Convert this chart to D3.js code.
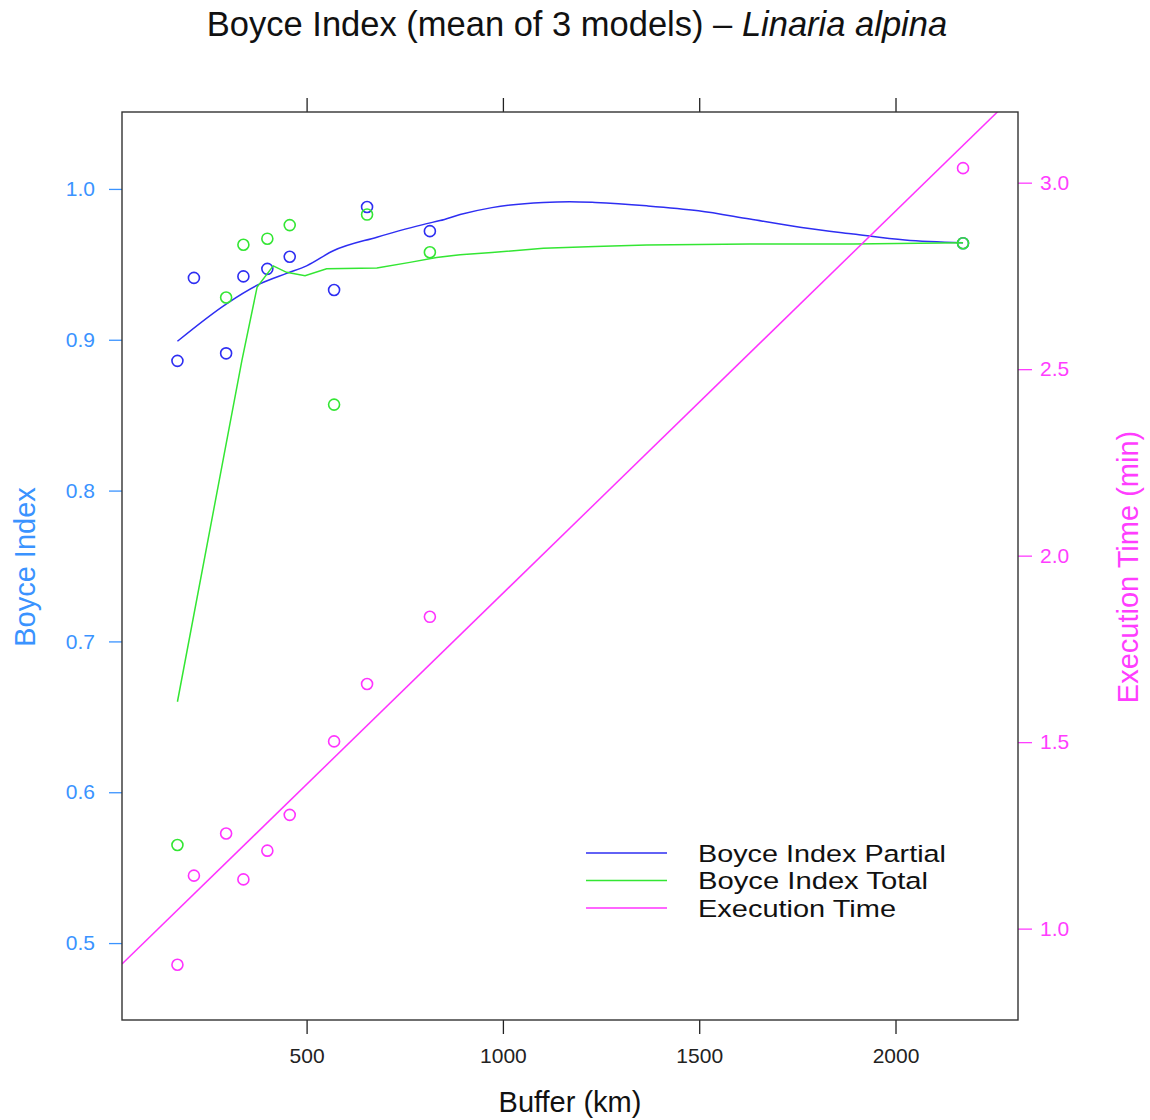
<!DOCTYPE html>
<html><head><meta charset="utf-8">
<script src="https://cdn.jsdelivr.net/npm/d3@7"></script>
<style>
body{margin:0;background:#fff}
svg{display:block}
text{font-family:"Liberation Sans",Arial,Helvetica,sans-serif}
</style>
</head><body>
<svg id="chart" width="1150" height="1120"></svg>
<script>
// ---- data ----
const buffer = [171, 213, 295, 339, 400, 457, 570, 654, 814, 2172];
const boycePartial = [0.886, 0.941, 0.891, 0.942, 0.947, 0.955, 0.933, 0.988, 0.972, 0.964];
const boyceTotal = [0.565, null, 0.928, 0.963, 0.967, 0.976, 0.857, 0.983, 0.958, 0.964];
const execTime = [0.903, 1.142, 1.255, 1.132, 1.209, 1.305, 1.502, 1.656, 1.836, 3.039];

// smoothed (loess) curves: [buffer, value]
const smoothPartialX = [171, 297, 381, 449, 500, 568, 679, 806, 840, 891, 972, 1103, 1170, 1235, 1366, 1498, 1629, 1761, 1892, 2024, 2172];
const smoothPartialY = [0.899, 0.924, 0.937, 0.944, 0.949, 0.959, 0.968, 0.977, 0.979, 0.983, 0.9876, 0.991, 0.9915, 0.991, 0.9888, 0.9855, 0.980, 0.9744, 0.9701, 0.9661, 0.9643];
const smoothTotalX = [171, 335, 374, 415, 449, 496, 551, 679, 763, 831, 891, 972, 1103, 1235, 1366, 1629, 1892, 2172];
const smoothTotalY = [0.660, 0.886, 0.935, 0.949, 0.9447, 0.9425, 0.947, 0.9476, 0.9513, 0.9546, 0.9564, 0.9579, 0.9606, 0.9619, 0.9628, 0.9635, 0.9635, 0.9643];

const xTicks = [500, 1000, 1500, 2000];
const yLeftTicks = [0.5, 0.6, 0.7, 0.8, 0.9, 1.0];
const yRightTicks = [1.0, 1.5, 2.0, 2.5, 3.0];
const legendLabels = ["Boyce Index Partial", "Boyce Index Total", "Execution Time"];

// ---- styles ----
const colBlue = "#2e2ef2", colGreen = "#33e633", colMag = "#ff33ff";
const colLeftAxis = "#3a93ff", colRightAxis = "#ff3dff";
const L = 122, R = 1018, T = 112, B = 1020;

const svg = d3.select("#chart");
const x = d3.scaleLinear().domain([29.8, 2312]).range([L, R]);
const yL = d3.scaleLinear().domain([0.449, 1.051]).range([B, T]);
const yR = d3.scaleLinear().domain([0.755, 3.1895]).range([B, T]);

svg.append("defs").append("clipPath").attr("id", "clip")
  .append("rect").attr("x", L).attr("y", T).attr("width", R - L).attr("height", B - T);

// title
const title = svg.append("text").attr("x", 577).attr("y", 36).attr("text-anchor", "middle")
  .attr("font-size", 34.5).attr("fill", "#111");
title.append("tspan").text("Boyce Index (mean of 3 models) \u2013 ");
title.append("tspan").attr("font-style", "italic").text("Linaria alpina");

// axes
function styleAxis(g, color) {
  g.select(".domain").remove();
  g.selectAll(".tick line").attr("stroke", color).attr("stroke-width", 1.3);
  g.selectAll(".tick text").attr("fill", color).attr("font-size", 21)
    .attr("font-family", '"Liberation Sans",Arial,sans-serif');
}
const gB = svg.append("g").attr("transform", `translate(0,${B})`)
  .call(d3.axisBottom(x).tickValues(xTicks).tickSize(14).tickPadding(14).tickFormat(d3.format("d")));
styleAxis(gB, "#222");
const gT = svg.append("g").attr("transform", `translate(0,${T})`)
  .call(d3.axisTop(x).tickValues(xTicks).tickSize(14).tickFormat(""));
styleAxis(gT, "#222");
const gL = svg.append("g").attr("transform", `translate(${L},0)`)
  .call(d3.axisLeft(yL).tickValues(yLeftTicks).tickSize(13).tickPadding(14).tickFormat(d3.format(".1f")));
styleAxis(gL, colLeftAxis);
const gR = svg.append("g").attr("transform", `translate(${R},0)`)
  .call(d3.axisRight(yR).tickValues(yRightTicks).tickSize(14).tickPadding(8).tickFormat(d3.format(".1f")));
styleAxis(gR, colRightAxis);

// axis labels
svg.append("text").attr("x", 570).attr("y", 1112).attr("text-anchor", "middle")
  .attr("font-size", 29).attr("fill", "#111").text("Buffer (km)");
svg.append("text").attr("transform", "translate(35,567) rotate(-90)").attr("text-anchor", "middle")
  .attr("font-size", 29).attr("fill", colLeftAxis).text("Boyce Index");
svg.append("text").attr("transform", "translate(1138,567) rotate(-90)").attr("text-anchor", "middle")
  .attr("font-size", 29).attr("fill", colRightAxis).text("Execution Time (min)");

const plot = svg.append("g").attr("clip-path", "url(#clip)");

const ptsPartial = buffer.map((b, i) => [b, boycePartial[i]]);
const ptsTotal = buffer.map((b, i) => [b, boyceTotal[i]]).filter(d => d[1] != null);
const ptsExec = buffer.map((b, i) => [b, execTime[i]]);

const lineL = d3.line().x(d => x(d[0])).y(d => yL(d[1]));

plot.selectAll(".pP").data(ptsPartial).join("circle")
  .attr("cx", d => x(d[0])).attr("cy", d => yL(d[1])).attr("r", 5.5)
  .attr("fill", "none").attr("stroke", colBlue).attr("stroke-width", 1.6);
plot.append("path").datum(smoothPartialX.map((v, i) => [v, smoothPartialY[i]]))
  .attr("d", lineL.curve(d3.curveMonotoneX)).attr("fill", "none")
  .attr("stroke", colBlue).attr("stroke-width", 1.5);

plot.selectAll(".pT").data(ptsTotal).join("circle")
  .attr("cx", d => x(d[0])).attr("cy", d => yL(d[1])).attr("r", 5.5)
  .attr("fill", "none").attr("stroke", colGreen).attr("stroke-width", 1.6);
plot.append("path").datum(smoothTotalX.map((v, i) => [v, smoothTotalY[i]]))
  .attr("d", d3.line().x(d => x(d[0])).y(d => yL(d[1])).curve(d3.curveLinear)).attr("fill", "none")
  .attr("stroke", colGreen).attr("stroke-width", 1.5);

// execution time: points + least-squares line
plot.selectAll(".pE").data(ptsExec).join("circle")
  .attr("cx", d => x(d[0])).attr("cy", d => yR(d[1])).attr("r", 5.5)
  .attr("fill", "none").attr("stroke", colMag).attr("stroke-width", 1.6);
const mx = d3.mean(buffer), my = d3.mean(execTime);
const slope = d3.sum(buffer, (b, i) => (b - mx) * (execTime[i] - my)) / d3.sum(buffer, b => (b - mx) ** 2);
const icpt = my - slope * mx;
const xd = x.domain();
plot.append("path").datum(xd.map(v => [v, icpt + slope * v]))
  .attr("d", d3.line().x(d => x(d[0])).y(d => yR(d[1]))).attr("fill", "none")
  .attr("stroke", colMag).attr("stroke-width", 1.5);

// frame
svg.append("rect").attr("x", L).attr("y", T).attr("width", R - L).attr("height", B - T)
  .attr("fill", "none").attr("stroke", "#333").attr("stroke-width", 1.4);

// legend
const legCols = [colBlue, colGreen, colMag];
const legWidths = [248, 230, 198];
const leg = svg.append("g");
legendLabels.forEach((lab, i) => {
  const yy = 853 + i * 27.5;
  leg.append("line").attr("x1", 586).attr("x2", 667).attr("y1", yy).attr("y2", yy)
    .attr("stroke", legCols[i]).attr("stroke-width", 1.5);
  leg.append("text").attr("x", 698).attr("y", yy).attr("dy", "0.36em")
    .attr("font-size", 24.5).attr("fill", "#111")
    .attr("textLength", legWidths[i]).attr("lengthAdjust", "spacingAndGlyphs").text(lab);
});
</script>
</body></html>
